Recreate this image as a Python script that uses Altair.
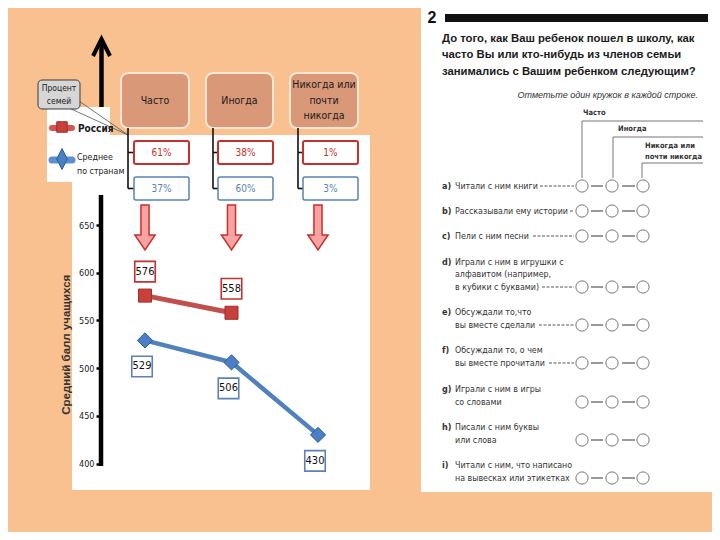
import altair as alt
import pandas as pd

# ---------------- data ----------------
categories = ["Часто", "Иногда", "Никогда или почти никогда"]
category_header_lines = [["Часто"], ["Иногда"], ["Никогда или", "почти", "никогда"]]
series_names = ["Россия", "Среднее по странам"]
russia_scores = [576, 558]          # no value for the third category
average_scores = [529, 506, 430]
russia_pct = [61, 38, 1]
average_pct = [37, 60, 3]
y_ticks = [400, 450, 500, 550, 600, 650]
y_title = "Средний балл учащихся"
callout_lines = ["Процент", "семей"]
legend_lines = [["Россия"], ["Среднее", "по странам"]]

question_number = "2"
question_lines = [
    "До того, как Ваш ребенок пошел в школу, как",
    "часто Вы или кто-нибудь из членов семьи",
    "занимались с Вашим ребенком следующим?",
]
instruction = "Отметьте один кружок в каждой строке."
answer_headers = [["Часто"], ["Иногда"], ["Никогда или", "почти никогда"]]
item_letters = ["a)", "b)", "c)", "d)", "e)", "f)", "g)", "h)", "i)"]
item_lines = [
    ["Читали с ним книги"],
    ["Рассказывали ему истории"],
    ["Пели с ним песни"],
    ["Играли с ним в игрушки с", "алфавитом (например,", "в кубики с буквами)"],
    ["Обсуждали то,что", "вы вместе сделали"],
    ["Обсуждали то, о чем", "вы вместе прочитали"],
    ["Играли с ним в игры", "со словами"],
    ["Писали с ним буквы", "или слова"],
    ["Читали с ним, что написано", "на вывесках или этикетках"],
]

# ---------------- layout / style (page pixels) ----------------
OFF = 8
W, H = 704, 524
BG = "#F8C18F"
RED = "#C0504D"; RED_DARK = "#9E2F2B"
BLUE = "#4F81BD"; BLUE_DARK = "#2E5C94"
BOX_RED = "#C8302C"; BOX_BLUE = "#5A82B4"
HEAD_FILL = "#D99878"; HEAD_STROKE = "#F7E6D6"
ARROW_FILL = "#F6A3A3"; ARROW_STROKE = "#C9302C"
NARROW = "Liberation Sans Narrow, DejaVu Sans Condensed, Roboto Condensed, Liberation Sans, sans-serif"
SANS = "Liberation Sans, Arial, sans-serif"

CAT_X = [145, 318]
SCORE_Y = [463.5, 225]
HEAD_X = [(121, 189), (206, 273), (290, 358)]
HEAD_Y = (73, 128)
TREE_X = [128, 213, 298]
PCT_X = [(134, 189), (218, 273), (303, 358)]
PCT_RED_Y = (141, 164)
PCT_BLUE_Y = (177, 200)
ARROW_Y = 227.5
ROW_Y = [186, 211, 236, 287, 325, 363, 402, 440, 478]
CIRCLE_X = [582, 612, 643]
LEADER_START = [540, 570, 533, 542, 539, 549, None, None, None]


def sx(v):
    return v - OFF


X_PX = alt.Scale(domain=[0, W], nice=False, zero=False)
Y_PX = alt.Scale(domain=[0, H], nice=False, zero=False, reverse=True)
CAT = alt.Scale(type="point", domain=categories, range=[sx(CAT_X[0]), sx(CAT_X[1])], padding=0)
SCORE = alt.Scale(domain=[400, 650], range=[sx(SCORE_Y[0]), sx(SCORE_Y[1])], nice=False, zero=False)


def XQ(f="x"):
    return alt.X(f"{f}:Q", scale=X_PX, axis=None)


def YQ(f="y"):
    return alt.Y(f"{f}:Q", scale=Y_PX, axis=None)


def texts(rows, **mark):
    df = pd.DataFrame({"x": [sx(r[0]) for r in rows], "y": [sx(r[1]) for r in rows],
                       "t": [r[2] for r in rows]})
    return alt.Chart(df).mark_text(**mark).encode(x=XQ(), y=YQ(), text="t:N")


def rects(boxes, **mark):
    df = pd.DataFrame({"x": [sx(b[0]) for b in boxes], "y": [sx(b[1]) for b in boxes],
                       "x2": [sx(b[2]) for b in boxes], "y2": [sx(b[3]) for b in boxes]})
    return alt.Chart(df).mark_rect(**mark).encode(x=XQ(), x2="x2:Q", y=YQ(), y2="y2:Q")


def segs(lines, **mark):
    df = pd.DataFrame({"x": [sx(s[0]) for s in lines], "y": [sx(s[1]) for s in lines],
                       "x2": [sx(s[2]) for s in lines], "y2": [sx(s[3]) for s in lines]})
    return alt.Chart(df).mark_rule(**mark).encode(x=XQ(), x2="x2:Q", y=YQ(), y2="y2:Q")


def polyline(points, **mark):
    df = pd.DataFrame({"x": [sx(p[0]) for p in points], "y": [sx(p[1]) for p in points],
                       "o": list(range(len(points)))})
    return alt.Chart(df).mark_line(**mark).encode(x=XQ(), y=YQ(), order="o:Q")


def symbols(points, **mark):
    df = pd.DataFrame({"x": [sx(p[0]) for p in points], "y": [sx(p[1]) for p in points]})
    return alt.Chart(df).mark_point(**mark).encode(x=XQ(), y=YQ())


layers = []

# white panels
layers.append(rects([(72, 135, 370, 490), (47, 107, 110, 182), (421, 0, 716, 492)], color="white"))

# callout "Процент семей"
layers.append(segs([(69, 108, 128, 135), (79, 101, 128, 135)], color="#555555", strokeWidth=0.8))
layers.append(rects([(38, 80, 80, 109)], fill="#D6D6D6", stroke="#3A3A3A", strokeWidth=1, cornerRadius=4))
layers.append(texts([(59, 88, callout_lines[0]), (59, 101, callout_lines[1])],
                    font=NARROW, fontSize=8.5, color="#222222", align="center", baseline="middle"))

# big vertical arrow and axis line
layers.append(segs([(101.5, 42, 101.5, 107), (101, 195, 101, 466)], color="black", strokeWidth=4.5))
layers.append(polyline([(93, 56), (101.5, 39), (110, 56)], color="black", strokeWidth=4, strokeJoin="miter"))

# header boxes
layers.append(rects([(a, HEAD_Y[0], b, HEAD_Y[1]) for a, b in HEAD_X], fill=HEAD_FILL, stroke=HEAD_STROKE,
                    strokeWidth=2, cornerRadius=7))
head_rows = []
for (a, b), lines in zip(HEAD_X, category_header_lines):
    cx = (a + b) / 2
    n = len(lines)
    for i, ln in enumerate(lines):
        head_rows.append((cx, (HEAD_Y[0] + HEAD_Y[1]) / 2 + (i - (n - 1) / 2) * 15.5, ln))
layers.append(texts(head_rows, font=NARROW, fontSize=10.5, color="#1A1A1A", align="center", baseline="middle"))

# tree connectors
tree = []
for tx, (a, b) in zip(TREE_X, PCT_X):
    ym_r = sum(PCT_RED_Y) / 2
    ym_b = sum(PCT_BLUE_Y) / 2
    tree += [(tx, HEAD_Y[1], tx, ym_b), (tx, ym_r, a, ym_r), (tx, ym_b, a, ym_b)]
layers.append(segs(tree, color="#111111", strokeWidth=1.6))

# percent boxes
layers.append(rects([(a, PCT_RED_Y[0], b, PCT_RED_Y[1]) for a, b in PCT_X], fill="white", stroke=BOX_RED,
                    strokeWidth=2, cornerRadius=2))
layers.append(rects([(a, PCT_BLUE_Y[0], b, PCT_BLUE_Y[1]) for a, b in PCT_X], fill="white", stroke=BOX_BLUE,
                    strokeWidth=1.5, cornerRadius=2))
layers.append(texts([((a + b) / 2, sum(PCT_RED_Y) / 2, f"{v}%") for (a, b), v in zip(PCT_X, russia_pct)],
                    font=NARROW, fontSize=10, color=BOX_RED, align="center", baseline="middle"))
layers.append(texts([((a + b) / 2, sum(PCT_BLUE_Y) / 2, f"{v}%") for (a, b), v in zip(PCT_X, average_pct)],
                    font=NARROW, fontSize=10, color=BOX_BLUE, align="center", baseline="middle"))

# down arrows over each category
ARROW_PATH = "M-0.18,-1 L0.18,-1 L0.18,0.33 L0.45,0.33 L0,1 L-0.45,0.33 L-0.18,0.33 Z"
arrow_df = pd.DataFrame({"category": categories, "y": [sx(ARROW_Y)] * len(categories)})
layers.append(alt.Chart(arrow_df).mark_point(shape=ARROW_PATH, size=45 ** 2, filled=True, fill=ARROW_FILL,
                                              stroke=ARROW_STROKE, strokeWidth=1.5, opacity=1).encode(
    x=alt.X("category:N", scale=CAT, axis=None), y=YQ()))

# legend
layers.append(segs([(52, 128, 72, 128)], color="#D9534F", strokeWidth=6, strokeCap="round"))
layers.append(symbols([(62, 127)], shape="square", size=110, filled=True, fill="#C8403C", stroke=RED_DARK,
                      strokeWidth=1, opacity=1))
layers.append(segs([(52, 160, 72, 160)], color="#5B8FD0", strokeWidth=7, strokeCap="round"))
layers.append(symbols([(62, 159)], shape="M0,-1 L0.5,0 L0,1 L-0.5,0 Z", size=440, filled=True, fill="#4A7FC6",
                      stroke=BLUE_DARK, strokeWidth=1, opacity=1))
layers.append(texts([(78, 129, legend_lines[0][0])], font=NARROW, fontSize=10, fontWeight="bold",
                    color="#1A1A1A", align="left", baseline="middle"))
layers.append(texts([(77, 157, legend_lines[1][0]), (77, 171, legend_lines[1][1])], font=NARROW, fontSize=8.8,
                    color="#1A1A1A", align="left", baseline="middle"))

# ---------------- main data ----------------
russia_df = pd.DataFrame({"category": categories[:len(russia_scores)], "score": russia_scores})
avg_df = pd.DataFrame({"category": categories, "score": average_scores})

xc = alt.X("category:N", scale=CAT, axis=None)
y_axis = alt.Axis(orient="left", offset=-sx(101), values=y_ticks, domain=False, grid=False, zindex=2,
                  tickSize=5, tickWidth=2.5, tickColor="black",
                  labelFont=NARROW, labelFontSize=9, labelColor="#222222", labelPadding=2,
                  title=y_title, titleFont=SANS, titleFontSize=11.5, titleFontWeight="bold",
                  titleColor="#333333", titlePadding=7)

layers.append(alt.Chart(avg_df).mark_line(color=BLUE, strokeWidth=4.5).encode(
    x=xc, y=alt.Y("score:Q", scale=SCORE, axis=y_axis)))
layers.append(alt.Chart(russia_df).mark_line(color=RED, strokeWidth=5).encode(
    x=xc, y=alt.Y("score:Q", scale=SCORE, axis=None)))
layers.append(alt.Chart(russia_df).mark_point(shape="square", size=170, filled=True, fill="#C8403C",
                                              stroke=RED_DARK, strokeWidth=1, opacity=1).encode(
    x=xc, y=alt.Y("score:Q", scale=SCORE, axis=None)))
layers.append(alt.Chart(avg_df).mark_point(shape="diamond", size=230, filled=True, fill="#4A7FC6",
                                           stroke=BLUE_DARK, strokeWidth=1, opacity=1).encode(
    x=xc, y=alt.Y("score:Q", scale=SCORE, axis=None)))

# value labels in boxes
for df, dx, dy, stroke in [(russia_df, 0, -24, BOX_RED), (avg_df, -3, 26, BOX_BLUE)]:
    layers.append(alt.Chart(df).mark_point(shape="square", size=420, filled=True, fill="white", stroke=stroke,
                                           strokeWidth=1.6, opacity=1, xOffset=dx, yOffset=dy).encode(
        x=xc, y=alt.Y("score:Q", scale=SCORE, axis=None)))
    layers.append(alt.Chart(df).mark_text(font=NARROW, fontSize=11, color="#111111", xOffset=dx, yOffset=dy,
                                          baseline="middle").encode(
        x=xc, y=alt.Y("score:Q", scale=SCORE, axis=None), text="score:Q"))

# ---------------- questionnaire sheet ----------------
layers.append(rects([(445, 14, 708, 22)], color="#111111"))
layers.append(texts([(432, 17.5, question_number)], font=SANS, fontSize=16, fontWeight="bold", color="#111111",
                    align="center", baseline="middle"))
layers.append(texts([(442, 39 + 16.3 * i, t) for i, t in enumerate(question_lines)], font=SANS, fontSize=11.3,
                    fontWeight="bold", color="#1A1A1A", align="left", baseline="middle"))
layers.append(texts([(698, 95, instruction)], font=SANS, fontSize=9, fontStyle="italic", color="#333333",
                    align="right", baseline="middle"))

# answer column header tree
layers.append(segs([(582, 121, 703, 121), (582, 121, 582, 178),
                    (613, 137, 703, 137), (613, 137, 613, 178),
                    (642, 163, 703, 163), (642, 163, 642, 178)], color="#666666", strokeWidth=0.9))
layers.append(texts([(583, 113, answer_headers[0][0]), (618, 129, answer_headers[1][0]),
                     (645, 146, answer_headers[2][0]), (645, 157, answer_headers[2][1])],
                    font=NARROW, fontSize=7.5, fontWeight="bold", color="#333333", align="left",
                    baseline="middle"))

# items
letter_rows, text_rows, leaders, circles, dashes = [], [], [], [], []
for yb, letter, lines, ls in zip(ROW_Y, item_letters, item_lines, LEADER_START):
    n = len(lines)
    top = yb - 12.7 * (n - 1)
    letter_rows.append((442, top, letter))
    for i, ln in enumerate(lines):
        text_rows.append((455, top + 12.7 * i, ln))
    if ls is not None:
        leaders.append((ls, yb, 574, yb))
    for cx in CIRCLE_X:
        circles.append((cx, yb))
    dashes += [(591, yb, 603, yb), (622, yb, 635, yb)]

layers.append(texts(letter_rows, font=NARROW, fontSize=9, fontWeight="bold", color="#333333", align="left",
                    baseline="middle"))
layers.append(texts(text_rows, font=NARROW, fontSize=8.8, color="#333333", align="left", baseline="middle"))
layers.append(segs(leaders, color="#444444", strokeWidth=0.9, strokeDash=[3, 1.5]))
layers.append(segs(dashes, color="#777777", strokeWidth=1.5))
layers.append(symbols(circles, shape="circle", size=150, filled=False, stroke="#777777", strokeWidth=1,
                      opacity=1))

chart = alt.layer(*layers).resolve_scale(x="independent", y="independent").properties(
    width=W, height=H, padding=0, background=BG,
    autosize=alt.AutoSizeParams(type="none"),
).configure_view(stroke=None)

chart.save("out.html", embed_options={"renderer": "svg", "actions": False})
